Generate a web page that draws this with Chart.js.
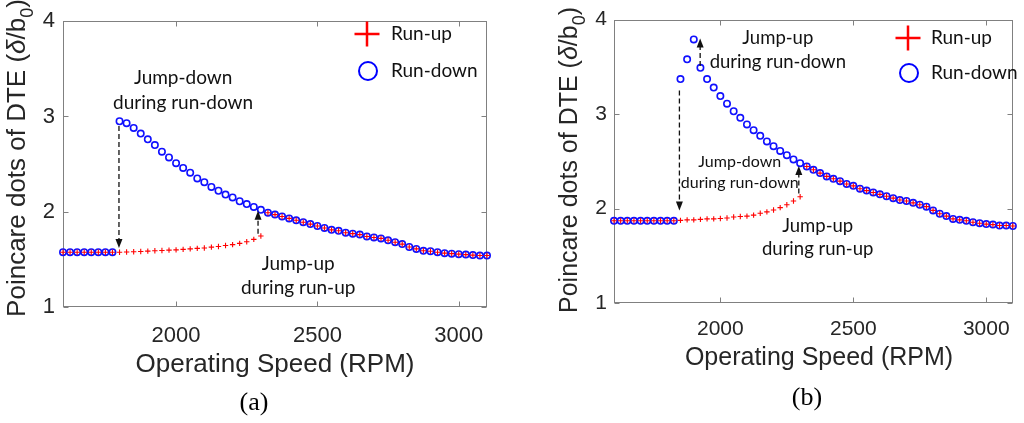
<!DOCTYPE html>
<html>
<head>
<meta charset="utf-8">
<script src="https://cdn.jsdelivr.net/npm/chart.js@4.4.1/dist/chart.umd.min.js"></script>
<style>
  html, body { margin: 0; padding: 0; background: #fff; }
  #wrap { position: relative; width: 1024px; height: 423px; overflow: hidden; }
  #ca { position: absolute; left: 0; top: 0; }
  #cb { position: absolute; left: 510px; top: 0; }
</style>
</head>
<body>
<div id="wrap">
  <canvas id="ca" width="510" height="423"></canvas>
  <canvas id="cb" width="514" height="423"></canvas>
</div>
<script>
// operating speed grid (RPM)
const speeds = [1600, 1625, 1650, 1675, 1700, 1725, 1750, 1775, 1800, 1825,
  1850, 1875, 1900, 1925, 1950, 1975, 2000, 2025, 2050, 2075,
  2100, 2125, 2150, 2175, 2200, 2225, 2250, 2275, 2300, 2325,
  2350, 2375, 2400, 2425, 2450, 2475, 2500, 2525, 2550, 2575,
  2600, 2625, 2650, 2675, 2700, 2725, 2750, 2775, 2800, 2825,
  2850, 2875, 2900, 2925, 2950, 2975, 3000, 3025, 3050, 3075, 3100];

// panel (a)
const runUpA = [1.575, 1.575, 1.575, 1.575, 1.575, 1.575, 1.575, 1.575, 1.575, 1.578,
  1.58, 1.583, 1.586, 1.59, 1.593, 1.597, 1.60, 1.605, 1.61, 1.615,
  1.62, 1.628, 1.635, 1.645, 1.655, 1.668, 1.685, 1.71, 1.745, 1.99,
  1.97, 1.95, 1.93, 1.91, 1.89, 1.87, 1.85, 1.83, 1.81, 1.80,
  1.78, 1.77, 1.76, 1.74, 1.73, 1.72, 1.70, 1.68, 1.66, 1.63,
  1.61, 1.59, 1.585, 1.575, 1.565, 1.56, 1.555, 1.55, 1.545, 1.54, 1.54];
const runDownA = [1.575, 1.575, 1.575, 1.575, 1.575, 1.575, 1.575, 1.575, 2.95, 2.93,
  2.88, 2.82, 2.76, 2.70, 2.63, 2.57, 2.51, 2.46, 2.41, 2.35,
  2.31, 2.26, 2.22, 2.18, 2.15, 2.11, 2.08, 2.05, 2.02, 1.99,
  1.97, 1.95, 1.93, 1.91, 1.89, 1.87, 1.85, 1.83, 1.81, 1.80,
  1.78, 1.77, 1.76, 1.74, 1.73, 1.72, 1.70, 1.68, 1.66, 1.63,
  1.61, 1.59, 1.585, 1.575, 1.565, 1.56, 1.555, 1.55, 1.545, 1.54, 1.54];

// panel (b)
const runUpB = [1.87, 1.87, 1.87, 1.87, 1.87, 1.87, 1.87, 1.87, 1.87, 1.87,
  1.875, 1.88, 1.88, 1.885, 1.89, 1.89, 1.895, 1.90, 1.91, 1.915,
  1.92, 1.93, 1.95, 1.965, 1.985, 2.01, 2.04, 2.08, 2.125, 2.445,
  2.41, 2.375, 2.34, 2.315, 2.29, 2.26, 2.24, 2.21, 2.19, 2.17,
  2.15, 2.13, 2.11, 2.09, 2.08, 2.06, 2.04, 2.02, 1.98, 1.945,
  1.92, 1.89, 1.88, 1.87, 1.855, 1.845, 1.835, 1.83, 1.82, 1.82, 1.815];
const runDownB = [1.87, 1.87, 1.87, 1.87, 1.87, 1.87, 1.87, 1.87, 1.87, 1.87,
  3.37, 3.58, 3.79, 3.49, 3.37, 3.28, 3.19, 3.11, 3.03, 2.96,
  2.89, 2.83, 2.77, 2.71, 2.66, 2.61, 2.565, 2.52, 2.48, 2.445,
  2.41, 2.375, 2.34, 2.315, 2.29, 2.26, 2.24, 2.21, 2.19, 2.17,
  2.15, 2.13, 2.11, 2.09, 2.08, 2.06, 2.04, 2.02, 1.98, 1.945,
  1.92, 1.89, 1.88, 1.87, 1.855, 1.845, 1.835, 1.83, 1.82, 1.82, 1.815];

const xTickVals = [2000, 2500, 3000];
const yTickVals = [1, 2, 3, 4];
const seriesNames = ['Run-up', 'Run-down'];

// jump arrows: speed, start value, end value (head at the end)
const arrowXA = [1798, 2290];
const arrowFromA = [2.90, 1.77];
const arrowToA = [1.62, 2.01];
const arrowXB = [1846, 1924, 2295];
const arrowFromB = [3.25, 3.51, 2.16];
const arrowToB = [1.98, 3.80, 2.45];

const notesA = [
  { lines: ['Jump-down', 'during run-down'], x: 2025, y: 3.41, size: 19, gap: 25 },
  { lines: ['Jump-up', 'during run-up'], x: 2432, y: 1.45, size: 19, gap: 24 }
];
const notesB = [
  { lines: ['Jump-up', 'during run-down'], x: 2216, y: 3.81, size: 18.5, gap: 24 },
  { lines: ['Jump-down', 'during run-down'], x: 2073, y: 2.49, size: 16, gap: 21 },
  { lines: ['Jump-up', 'during run-up'], x: 2366, y: 1.81, size: 18.5, gap: 23 }
];

const AXIS_FONT = '"Liberation Sans", Arial, sans-serif';
const NOTE_FONT = 'Lato, "Open Sans", sans-serif';

const decor = {
  id: 'decor',
  beforeDatasetsDraw(chart, args, o) {
    const { ctx, chartArea: a, scales: { x, y } } = chart;
    const L = Math.round(a.left) + 0.5, R = Math.round(a.right) - 0.5;
    const T = Math.round(a.top) + 0.5, B = Math.round(a.bottom) - 0.5;
    ctx.save();
    ctx.strokeStyle = '#808080';
    ctx.lineWidth = 1;
    ctx.strokeRect(L, T, R - L, B - T);
    ctx.beginPath();
    xTickVals.forEach(v => {
      const px = Math.round(x.getPixelForValue(v)) + 0.5;
      ctx.moveTo(px, B); ctx.lineTo(px, B - 5);
      ctx.moveTo(px, T); ctx.lineTo(px, T + 5);
    });
    yTickVals.forEach(v => {
      const py = Math.round(y.getPixelForValue(v)) + 0.5;
      ctx.moveTo(L, py); ctx.lineTo(L + 5, py);
      ctx.moveTo(R, py); ctx.lineTo(R - 5, py);
    });
    ctx.stroke();
    ctx.restore();
  },
  afterDraw(chart, args, o) {
    const { ctx, scales: { x, y } } = chart;
    ctx.save();

    // dashed jump arrows
    o.arrowX.forEach((sx, i) => {
      const px = x.getPixelForValue(sx);
      const y0 = y.getPixelForValue(o.arrowFrom[i]);
      const y1 = y.getPixelForValue(o.arrowTo[i]);
      const dir = y1 > y0 ? 1 : -1;
      ctx.strokeStyle = '#111';
      ctx.lineWidth = 1.3;
      ctx.setLineDash([5, 3]);
      ctx.beginPath();
      ctx.moveTo(px, y0);
      ctx.lineTo(px, y1 - dir * 8);
      ctx.stroke();
      ctx.setLineDash([]);
      ctx.fillStyle = '#111';
      ctx.beginPath();
      ctx.moveTo(px, y1);
      ctx.lineTo(px - 3.5, y1 - dir * 9);
      ctx.lineTo(px + 3.5, y1 - dir * 9);
      ctx.closePath();
      ctx.fill();
    });

    // text notes
    ctx.fillStyle = '#111';
    ctx.textAlign = 'center';
    ctx.textBaseline = 'middle';
    o.notes.forEach(n => {
      ctx.font = n.size + 'px ' + NOTE_FONT;
      const px = x.getPixelForValue(n.x);
      const py = y.getPixelForValue(n.y);
      n.lines.forEach((t, k) => ctx.fillText(t, px, py + k * n.gap));
    });

    // legend
    const lg = o.legend;
    ctx.strokeStyle = '#ff0000';
    ctx.lineWidth = 2.5;
    ctx.beginPath();
    ctx.moveTo(lg.x - 12.5, lg.y1); ctx.lineTo(lg.x + 12.5, lg.y1);
    ctx.moveTo(lg.x, lg.y1 - 12.5); ctx.lineTo(lg.x, lg.y1 + 12.5);
    ctx.stroke();
    ctx.strokeStyle = '#0000ff';
    ctx.lineWidth = 2;
    ctx.beginPath();
    ctx.arc(lg.x + 1, lg.y2, 9, 0, Math.PI * 2);
    ctx.stroke();
    ctx.textAlign = 'left';
    ctx.font = lg.size + 'px ' + NOTE_FONT;
    ctx.fillText(seriesNames[0], lg.tx, lg.y1);
    ctx.fillText(seriesNames[1], lg.tx, lg.y2);

    // y axis title with subscript
    const yt = o.yTitle;
    ctx.translate(yt.x, yt.y);
    ctx.rotate(-Math.PI / 2);
    ctx.fillStyle = '#262626';
    ctx.textBaseline = 'alphabetic';
    const f = yt.size + 'px ' + AXIS_FONT;
    const parts = [
      { t: 'Poincare dots of DTE (', f: f, dy: 0 },
      { t: 'δ', f: 'italic ' + f, dy: 0 },
      { t: '/b', f: f, dy: 0 },
      { t: '0', f: Math.round(yt.size * 0.7) + 'px ' + AXIS_FONT, dy: yt.size * 0.3 },
      { t: ')', f: f, dy: 0 }
    ];
    let total = 0;
    parts.forEach(p => { ctx.font = p.f; p.w = ctx.measureText(p.t).width; total += p.w; });
    let cx = -total / 2;
    parts.forEach(p => { ctx.font = p.f; ctx.fillText(p.t, cx, p.dy); cx += p.w; });
    ctx.setTransform(1, 0, 0, 1, 0, 0);

    // x axis title
    const xt = o.xTitle;
    ctx.textAlign = 'center';
    ctx.font = xt.size + 'px ' + AXIS_FONT;
    ctx.fillText('Operating Speed (RPM)', xt.x, xt.y);

    // panel caption
    ctx.fillStyle = '#000';
    ctx.font = '26px "Liberation Serif", "Times New Roman", serif';
    ctx.fillText(o.caption.text, o.caption.x, o.caption.y);
    ctx.restore();
  }
};

function makeChart(id, up, down, box, deco) {
  return new Chart(document.getElementById(id), {
    type: 'scatter',
    data: {
      datasets: [
        {
          label: seriesNames[0],
          data: speeds.map((s, i) => ({ x: s, y: up[i] })),
          pointStyle: 'cross',
          pointRadius: 2.7,
          pointBorderWidth: 1.1,
          borderColor: '#ff0000',
          backgroundColor: '#ff0000',
          clip: false
        },
        {
          label: seriesNames[1],
          data: speeds.map((s, i) => ({ x: s, y: down[i] })),
          pointStyle: 'circle',
          pointRadius: 3.2,
          pointBorderWidth: 1.6,
          borderColor: '#1010ff',
          backgroundColor: 'rgba(0,0,0,0)',
          clip: false
        }
      ]
    },
    options: {
      responsive: false,
      animation: false,
      events: [],
      layout: { padding: { top: box.top, right: box.right, left: 0, bottom: 0 } },
      scales: {
        x: {
          type: 'linear',
          min: 1600,
          max: 3100,
          afterBuildTicks: ax => { ax.ticks = xTickVals.map(v => ({ value: v })); },
          afterFit: ax => { ax.height = box.xh; },
          grid: { display: false, drawTicks: false },
          border: { display: false },
          ticks: {
            font: { family: AXIS_FONT, size: box.tick }, color: '#262626',
            padding: box.xpad, maxRotation: 0, callback: v => String(v)
          }
        },
        y: {
          type: 'linear',
          min: 1,
          max: 4,
          afterBuildTicks: ax => { ax.ticks = yTickVals.map(v => ({ value: v })); },
          afterFit: ax => { ax.width = box.yw; },
          grid: { display: false, drawTicks: false },
          border: { display: false },
          ticks: {
            font: { family: AXIS_FONT, size: box.tick }, color: '#262626',
            padding: box.ypad, callback: v => String(v)
          }
        }
      },
      plugins: {
        legend: { display: false },
        tooltip: { enabled: false },
        decor: deco
      }
    },
    plugins: [decor]
  });
}

makeChart('ca', runUpA, runDownA,
  { top: 15, right: 23, xh: 116, yw: 63, tick: 22, xpad: 16, ypad: 8 },
  {
    arrowX: arrowXA, arrowFrom: arrowFromA, arrowTo: arrowToA,
    notes: notesA,
    legend: { x: 367, y1: 34, y2: 71, tx: 391, size: 19 },
    yTitle: { x: 25, y: 158, size: 26 },
    xTitle: { x: 275, y: 372, size: 26 },
    caption: { text: '(a)', x: 254, y: 410 }
  });

makeChart('cb', runUpB, runDownB,
  { top: 19, right: 1, xh: 120, yw: 104, tick: 21, xpad: 14, ypad: 7 },
  {
    arrowX: arrowXB, arrowFrom: arrowFromB, arrowTo: arrowToB,
    notes: notesB,
    legend: { x: 398, y1: 38, y2: 73, tx: 421, size: 19 },
    yTitle: { x: 67, y: 160, size: 25 },
    xTitle: { x: 309, y: 365, size: 25 },
    caption: { text: '(b)', x: 297, y: 405 }
  });
</script>
</body>
</html>
